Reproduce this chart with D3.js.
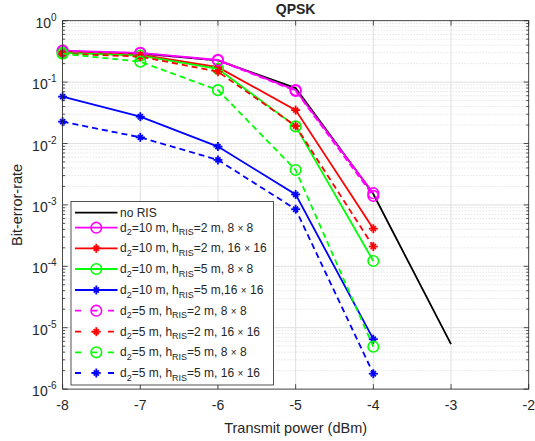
<!DOCTYPE html>
<html>
<head>
<meta charset="utf-8">
<script src="https://cdn.jsdelivr.net/npm/d3@7"></script>
<style>
body { margin: 0; background: #fff; }
text { font-family: "Liberation Sans", Arial, sans-serif; fill: #262626; }
</style>
</head>
<body>
<script>
const powerNoRIS = [-8, -7, -6, -5, -4, -3];
const power = [-8, -7, -6, -5, -4];

const berNoRIS = [0.32, 0.29, 0.225, 0.08, 0.0015, 5.4e-6];
const berD10H2_8 = [0.325, 0.30, 0.23, 0.074, 0.00155];
const berD10H2_16 = [0.31, 0.28, 0.175, 0.035, 4.1e-4];
const berD10H5_8 = [0.30, 0.27, 0.165, 0.019, 1.22e-4];
const berD10H5_16 = [0.058, 0.0273, 0.0089, 0.00148, 6.5e-6];
const berD5H2_8 = [0.32, 0.295, 0.225, 0.072, 0.0014];
const berD5H2_16 = [0.29, 0.26, 0.148, 0.0193, 2.1e-4];
const berD5H5_8 = [0.29, 0.215, 0.074, 0.0037, 4.9e-6];
const berD5H5_16 = [0.0227, 0.0126, 0.0054, 8.5e-4, 1.78e-6];

const xTicks = [-8, -7, -6, -5, -4, -3, -2];
const yExps = [0, -1, -2, -3, -4, -5, -6];

const series = [
	{ x: powerNoRIS, y: berNoRIS, color: "#000000", dash: null, marker: null, d: null, h: null, n: null, label: "no RIS" },
	{ x: power, y: berD10H2_8, color: "#ff00ff", dash: null, marker: "o", d: "10", h: "2", n: "8" },
	{ x: power, y: berD10H2_16, color: "#ff0000", dash: null, marker: "*", d: "10", h: "2", n: "16" },
	{ x: power, y: berD10H5_8, color: "#00ff00", dash: null, marker: "o", d: "10", h: "5", n: "8" },
	{ x: power, y: berD10H5_16, color: "#0000ff", dash: null, marker: "*", d: "10", h: "5", n: "16", tight: true },
	{ x: power, y: berD5H2_8, color: "#ff00ff", dash: "6,4", marker: "o", d: "5", h: "2", n: "8" },
	{ x: power, y: berD5H2_16, color: "#ff0000", dash: "6,4", marker: "*", d: "5", h: "2", n: "16" },
	{ x: power, y: berD5H5_8, color: "#00ff00", dash: "6,4", marker: "o", d: "5", h: "5", n: "8" },
	{ x: power, y: berD5H5_16, color: "#0000ff", dash: "6,4", marker: "*", d: "5", h: "5", n: "16" }
];

const w = 535, h = 441;
const mLeft = 62.6, mRight = 528.7, mTop = 20.7, mBottom = 389.1;

const svg = d3.select("body").append("svg")
	.attr("width", w)
	.attr("height", h);

const x = d3.scaleLinear().domain([-8, -2]).range([mLeft, mRight]);
const y = d3.scaleLog().domain([1e-6, 1]).range([mBottom, mTop]);

// grid
const grid = svg.append("g");
const minorVals = [];
yExps.slice(1).forEach(e => {
	for (let k = 2; k <= 9; k++) minorVals.push(k * Math.pow(10, e));
});
grid.selectAll(".minor").data(minorVals).enter().append("line")
	.attr("x1", mLeft).attr("x2", mRight)
	.attr("y1", d => y(d)).attr("y2", d => y(d))
	.attr("stroke", "#cfcfcf").attr("stroke-width", 0.8)
	.attr("stroke-dasharray", "1,2");
grid.selectAll(".majy").data(yExps).enter().append("line")
	.attr("x1", mLeft).attr("x2", mRight)
	.attr("y1", d => y(Math.pow(10, d))).attr("y2", d => y(Math.pow(10, d)))
	.attr("stroke", "#e0e0e0").attr("stroke-width", 1);
grid.selectAll(".majx").data(xTicks).enter().append("line")
	.attr("x1", d => x(d)).attr("x2", d => x(d))
	.attr("y1", mTop).attr("y2", mBottom)
	.attr("stroke", "#e0e0e0").attr("stroke-width", 1);

// ticks (inside, on all sides)
const ticks = svg.append("g").attr("stroke", "#262626").attr("stroke-width", 0.8);
xTicks.forEach(t => {
	ticks.append("line").attr("x1", x(t)).attr("x2", x(t)).attr("y1", mBottom).attr("y2", mBottom - 5);
	ticks.append("line").attr("x1", x(t)).attr("x2", x(t)).attr("y1", mTop).attr("y2", mTop + 5);
});
yExps.forEach(e => {
	const yy = y(Math.pow(10, e));
	ticks.append("line").attr("x1", mLeft).attr("x2", mLeft + 5).attr("y1", yy).attr("y2", yy);
	ticks.append("line").attr("x1", mRight).attr("x2", mRight - 5).attr("y1", yy).attr("y2", yy);
});
minorVals.forEach(v => {
	ticks.append("line").attr("x1", mLeft).attr("x2", mLeft + 2.5).attr("y1", y(v)).attr("y2", y(v));
	ticks.append("line").attr("x1", mRight).attr("x2", mRight - 2.5).attr("y1", y(v)).attr("y2", y(v));
});

// lines
const line = d3.line().x(d => x(d[0])).y(d => y(d[1]));

const star = (g, cx, cy, r, color) => {
	const a = g.append("g").attr("stroke", color).attr("stroke-width", 1.8);
	[0, 45, 90, 135].forEach(ang => {
		const rad = ang * Math.PI / 180;
		const rr = (ang % 90 === 0) ? r : r * 0.8;
		a.append("line")
			.attr("x1", cx - rr * Math.cos(rad)).attr("y1", cy - rr * Math.sin(rad))
			.attr("x2", cx + rr * Math.cos(rad)).attr("y2", cy + rr * Math.sin(rad));
	});
};

const drawMarker = (g, m, cx, cy, color) => {
	if (m === "o") {
		g.append("circle").attr("cx", cx).attr("cy", cy).attr("r", 5.3)
			.attr("fill", "none").attr("stroke", color).attr("stroke-width", 1.6);
	} else if (m === "*") {
		star(g, cx, cy, 4.5, color);
	}
};

const plot = svg.append("g");
series.forEach(s => {
	const pts = s.x.map((v, i) => [v, s.y[i]]);
	plot.append("path")
		.attr("d", line(pts))
		.attr("fill", "none")
		.attr("stroke", s.color)
		.attr("stroke-width", 1.8)
		.attr("stroke-dasharray", s.dash);
	if (s.marker) {
		pts.forEach(p => drawMarker(plot, s.marker, x(p[0]), y(p[1]), s.color));
	}
});

// box
svg.append("rect")
	.attr("x", mLeft).attr("y", mTop)
	.attr("width", mRight - mLeft).attr("height", mBottom - mTop)
	.attr("fill", "none").attr("stroke", "#262626").attr("stroke-width", 0.8);

// tick labels
svg.selectAll(".xl").data(xTicks).enter().append("text")
	.attr("x", d => x(d)).attr("y", mBottom + 21)
	.attr("text-anchor", "middle")
	.attr("font-size", 14)
	.text(d => d);

yExps.forEach(e => {
	const t = svg.append("text")
		.attr("x", mLeft - 6).attr("y", y(Math.pow(10, e)) + 7)
		.attr("text-anchor", "end")
		.attr("font-size", 14);
	t.append("tspan").text("10");
	t.append("tspan").attr("dy", -7).attr("font-size", 10).text(e);
});

svg.append("text")
	.attr("x", (mLeft + mRight) / 2).attr("y", 14)
	.attr("text-anchor", "middle")
	.attr("font-size", 14).attr("font-weight", "bold")
	.text("QPSK");

svg.append("text")
	.attr("x", (mLeft + mRight) / 2).attr("y", 433)
	.attr("text-anchor", "middle")
	.attr("font-size", 14.5)
	.text("Transmit power (dBm)");

svg.append("text")
	.attr("transform", `translate(22,${(mTop + mBottom) / 2}) rotate(-90)`)
	.attr("text-anchor", "middle")
	.attr("font-size", 14.5)
	.text("Bit-error-rate");

// legend
const lg = svg.append("g");
lg.append("rect")
	.attr("x", 71).attr("y", 201.5)
	.attr("width", 202.5).attr("height", 183.5)
	.attr("fill", "#fff").attr("stroke", "#262626").attr("stroke-width", 0.8);

const rowY = [212.7, 227.7, 248.3, 269, 290, 310.7, 331.7, 352.3, 373];
series.forEach((s, i) => {
	const yy = rowY[i];
	lg.append("line")
		.attr("x1", 75).attr("x2", 117.5)
		.attr("y1", yy).attr("y2", yy)
		.attr("stroke", s.color).attr("stroke-width", 1.8)
		.attr("stroke-dasharray", s.dash ? "6,10.5" : null);
	if (s.marker) drawMarker(lg, s.marker, 96.3, yy, s.color);
	const t = lg.append("text")
		.attr("x", 120).attr("y", yy + 4)
		.attr("font-size", 12);
	if (s.label) {
		t.text(s.label);
	} else {
		t.append("tspan").text("d");
		t.append("tspan").attr("dy", 3.5).attr("font-size", 9).text("2");
		t.append("tspan").attr("dy", -3.5).text("=" + s.d + " m, h");
		t.append("tspan").attr("dy", 3.5).attr("font-size", 9).text("RIS");
		t.append("tspan").attr("dy", -3.5).text("=" + s.h + " m," + (s.tight ? "" : " ") + s.n + " ");
		t.append("tspan").attr("font-size", 10).text("×");
		t.append("tspan").text(" " + s.n);
	}
});
</script>
</body>
</html>
